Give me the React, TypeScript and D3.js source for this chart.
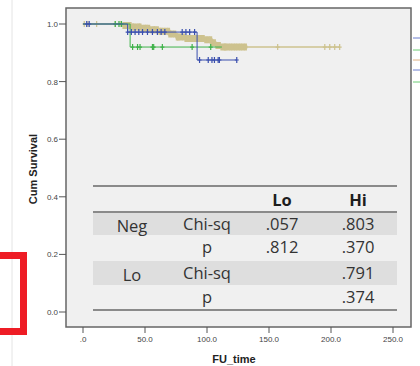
import React from 'react';
import * as d3 from 'd3';

// survival step points [time, cum survival]
const tanSteps: [number, number][] = [
  [0, 1.0], [33, 0.995], [40, 0.99], [48, 0.985], [55, 0.98], [62, 0.975],
  [70, 0.965], [76, 0.955], [82, 0.95], [98, 0.945], [104, 0.935], [108, 0.925],
  [112, 0.92], [207, 0.92],
];
// censored cases: sparse ones and the dense cluster that forms the thick band
const tanCensor = [1, 4, 11, 26, 30, 157, 195, 199, 203, 207];
const tanCensorDense = [
  33, 35, 36, 38, 40, 41, 43, 45, 46, 48, 50, 51, 53, 55, 57, 58,
  60, 62, 63, 65, 67, 69, 70, 72, 74, 76, 77, 79, 81, 83, 85, 86, 88, 90, 92, 94,
  95, 97, 99, 101, 103, 104, 106, 108, 110, 112, 114, 115, 117, 119, 121, 123,
  125, 127, 129, 131,
];
const blueSteps: [number, number][] = [[0, 1.0], [36, 0.972], [92, 0.875], [124, 0.875]];
const blueCensor = [3, 5, 36, 39, 42, 45, 48, 52, 56, 60, 63, 66, 80, 83, 86, 90, 94, 101, 104, 106, 109, 110, 124];
const greenSteps: [number, number][] = [[0, 1.0], [38, 0.92], [112, 0.92]];
const greenCensor = [26, 29, 31, 40, 44, 46, 56, 57, 64, 88, 103];

const yTicks = [0, 0.2, 0.4, 0.6, 0.8, 1.0];
const xTicks = [0, 50, 100, 150, 200, 250];

const tableHead = ['', '', 'Lo', 'Hi'];
const tableRows = [
  ['Neg', 'Chi-sq', '.057', '.803'],
  ['', 'p', '.812', '.370'],
  ['Lo', 'Chi-sq', '', '.791'],
  ['', 'p', '', '.374'],
];

const x = d3.scaleLinear().domain([0, 250]).range([83, 393]);
const y = d3.scaleLinear().domain([0, 1]).range([312, 24]);

const stepLine = d3.line<[number, number]>()
  .x((d) => x(d[0]))
  .y((d) => y(d[1]))
  .curve(d3.curveStepAfter);

// survival value at time t for censor marks
const survAt = (steps: [number, number][], t: number) => {
  let s = steps[0][1];
  steps.forEach((p) => { if (p[0] <= t) s = p[1]; });
  return s;
};

const Marks = ({ steps, censor, color, mark, h }: { steps: [number, number][]; censor: number[]; color: string; mark: number; h: number }) => (
  <g>
    {censor.map((t, i) => {
      const cx = x(t);
      const cy = y(survAt(steps, t));
      return (
        <path key={i} d={`M${cx},${cy - h}V${cy + h}M${cx - 2},${cy}H${cx + 2}`} stroke={color} strokeWidth={mark} fill="none" />
      );
    })}
  </g>
);

const Curve = ({ steps, censor, color, width }: { steps: [number, number][]; censor: number[]; color: string; width: number }) => (
  <g>
    <path d={stepLine(steps) || ''} fill="none" stroke={color} strokeWidth={width} />
    <Marks steps={steps} censor={censor} color={color} mark={1.2} h={3} />
  </g>
);

const colX = [132, 207, 282, 358];
const rowY = [230, 253, 279, 303];

export default function App() {
  const tan = '#cdc28e';
  const blue = '#3a4fae';
  const green = '#3fb24a';
  const tick = '#555';
  return (
    <svg width={420} height={366} style={{ position: 'fixed', left: 0, top: 0, background: '#fff' }}
      fontFamily="Arial, 'Liberation Sans', sans-serif">
      {/* left window remnants */}
      <line x1={12} y1={0} x2={12} y2={366} stroke="#e4e4e4" strokeWidth={1} />
      <rect x={-10} y={255.5} width={33.5} height={76} fill="none" stroke="#ee1c25" strokeWidth={7} />

      {/* plot frame */}
      <rect x={66} y={8} width={345} height={319} fill="#f0f0f0" stroke="#666" strokeWidth={1.5} />

      {/* y axis */}
      {yTicks.map((t) => (
        <g key={t}>
          <line x1={59} x2={66} y1={y(t)} y2={y(t)} stroke={tick} strokeWidth={1} />
          <text x={58} y={y(t) + 3} fontSize={8} fill="#444" textAnchor="end">{t.toFixed(1)}</text>
        </g>
      ))}
      <text transform="translate(37,169) rotate(-90)" fontSize={11} fontWeight="bold" fill="#222" textAnchor="middle">Cum Survival</text>

      {/* x axis */}
      {xTicks.map((t) => (
        <g key={t}>
          <line x1={x(t)} x2={x(t)} y1={327} y2={333} stroke={tick} strokeWidth={1} />
          <text x={x(t)} y={342} fontSize={8} fill="#444" textAnchor="middle">{t === 0 ? '.0' : t.toFixed(1)}</text>
        </g>
      ))}
      <text x={234} y={363} fontSize={11} fontWeight="bold" fill="#222" textAnchor="middle">FU_time</text>

      {/* curves */}
      <Curve steps={tanSteps} censor={tanCensor} color={tan} width={1.5} />
      <Marks steps={tanSteps} censor={tanCensorDense} color={tan} mark={3} h={3.5} />
      <Curve steps={greenSteps} censor={greenCensor} color={green} width={1} />
      <Curve steps={blueSteps} censor={blueCensor} color={blue} width={1} />

      {/* legend remnants on right edge */}
      <line x1={413} x2={420} y1={38} y2={38} stroke="#6d7fd0" strokeWidth={1} />
      <line x1={413} x2={420} y1={50} y2={50} stroke="#6ccc74" strokeWidth={1} />
      <line x1={413} x2={420} y1={60} y2={60} stroke="#e0b080" strokeWidth={1} />
      <line x1={413} x2={420} y1={70} y2={70} stroke="#6d7fd0" strokeWidth={1} />
      <line x1={413} x2={420} y1={82} y2={82} stroke="#6ccc74" strokeWidth={1} />

      {/* statistics table */}
      <g fontFamily="'Open Sans', 'Noto Sans', sans-serif" fontSize={16.5} fill="#333">
        <rect x={93} y={212} width={304} height={23} fill="#dedede" />
        <rect x={93} y={261} width={304} height={24} fill="#dedede" />
        <line x1={93} x2={397} y1={186} y2={186} stroke="#8a8a8a" strokeWidth={2} />
        <line x1={93} x2={397} y1={212} y2={212} stroke="#8a8a8a" strokeWidth={2} />
        <line x1={93} x2={397} y1={310} y2={310} stroke="#8a8a8a" strokeWidth={2} />
        {tableHead.map((h, i) => (
          <text key={i} x={colX[i]} y={206} textAnchor="middle" fontWeight="bold" fill="#1e1e1e">{h}</text>
        ))}
        {tableRows.map((r, ri) => r.map((c, ci) => (
          <text key={`${ri}-${ci}`} x={colX[ci]} y={rowY[ri] + (ci === 0 ? 1.5 : 0)} textAnchor="middle">{c}</text>
        )))}
      </g>
    </svg>
  );
}
